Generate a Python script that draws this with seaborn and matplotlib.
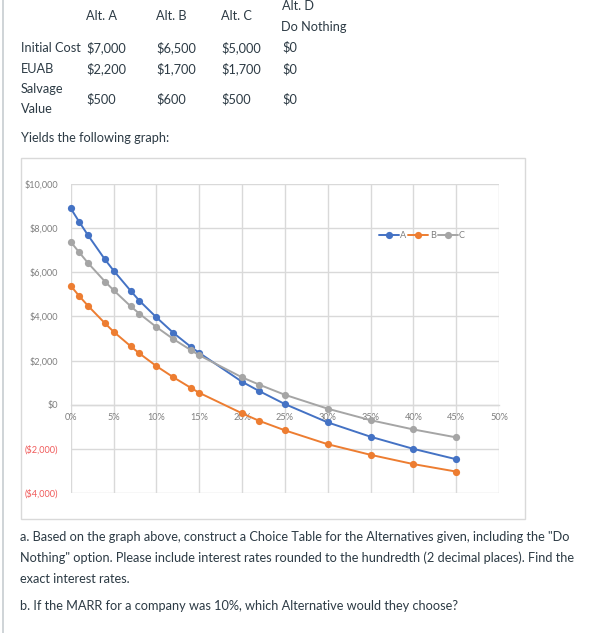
import matplotlib
matplotlib.use("Agg")
import matplotlib.pyplot as plt
import matplotlib.patches as mpatches
from matplotlib.ticker import FuncFormatter
import seaborn as sns
import pandas as pd

# ---- data ----
rates = [0, 1, 2, 4, 5, 7, 8, 10, 12, 14, 15, 20, 22, 25, 30, 35, 40, 45]
pw_a = [8900, 8280, 7690, 6580, 6080, 5160, 4720, 3960, 3250, 2630, 2350,
        1040, 620, 30, -800, -1450, -2000, -2470]
pw_b = [5390, 4920, 4490, 3690, 3310, 2650, 2330, 1750, 1240, 770, 540,
        -390, -730, -1160, -1790, -2270, -2690, -3030]
pw_c = [7380, 6900, 6430, 5580, 5190, 4460, 4130, 3520, 2970, 2480, 2240,
        1240, 910, 450, -180, -700, -1120, -1480]
series_names = ["A", "B", "C"]
x_ticks = [0, 5, 10, 15, 20, 25, 30, 35, 40, 45, 50]
y_ticks = [-4000, -2000, 0, 2000, 4000, 6000, 8000, 10000]

table_cols = ["Alt. A", "Alt. B", "Alt. C"]
initial_cost = ["$7,000", "$6,500", "$5,000", "$0"]
euab = ["$2,200", "$1,700", "$1,700", "$0"]
salvage = ["$500", "$600", "$500", "$0"]

df = pd.DataFrame({
    "rate": rates * 3,
    "pw": pw_a + pw_b + pw_c,
    "alt": sum([[n] * len(rates) for n in series_names], []),
})

sns.set_theme(style="white")
plt.rcParams["font.family"] = ["Lato", "DejaVu Sans"]

W, H = 598, 633
fig = plt.figure(figsize=(W / 100, H / 100), dpi=100)

def fx(px):
    return px / W

def fy(py):
    return 1 - py / H

txt_color = "#2D3B45"
fs = 9.2

# left border line of the page
fig.add_artist(plt.Line2D([fx(2.7), fx(2.7)], [0, 1], color="#C7CDD1", lw=1.2,
                          transform=fig.transFigure))

# ---- table text ----
col_x = [86, 156, 221, 282]
fig.text(fx(282), fy(6), "Alt. D", fontsize=fs, color=txt_color, va="center")
for cx, name in zip(col_x[:3], table_cols):
    fig.text(fx(cx), fy(16), name, fontsize=fs, color=txt_color, va="center")
fig.text(fx(281), fy(27), "Do Nothing", fontsize=fs, color=txt_color, va="center")

fig.text(fx(21), fy(47.5), "Initial Cost", fontsize=fs, color=txt_color, va="center")
for cx, v in zip(col_x, initial_cost):
    fig.text(fx(cx), fy(47.5), v, fontsize=fs, color=txt_color, va="center")
fig.text(fx(21), fy(69), "EUAB", fontsize=fs, color=txt_color, va="center")
for cx, v in zip(col_x, euab):
    fig.text(fx(cx), fy(69), v, fontsize=fs, color=txt_color, va="center")
fig.text(fx(21), fy(89.3), "Salvage", fontsize=fs, color=txt_color, va="center")
fig.text(fx(21), fy(108.7), "Value", fontsize=fs, color=txt_color, va="center")
for cx, v in zip(col_x, salvage):
    fig.text(fx(cx), fy(99), v, fontsize=fs, color=txt_color, va="center")
fig.text(fx(21), fy(138.3), "Yields the following graph:", fontsize=fs,
         color=txt_color, va="center")

# ---- chart frame ----
fig.add_artist(mpatches.Rectangle((fx(20.7), fy(519)), fx(525.3) - fx(20.7),
                                  fy(158.3) - fy(519), transform=fig.transFigure,
                                  fill=False, edgecolor="#D9D9D9", lw=1.0))

# ---- axes ----
ax = fig.add_axes([fx(70.7), fy(493), fx(499) - fx(70.7), fy(184) - fy(493)])
palette = {"A": "#4472C4", "B": "#ED7D31", "C": "#A5A5A5"}
sns.lineplot(data=df, x="rate", y="pw", hue="alt", palette=palette, marker="o",
             markersize=5.2, markeredgewidth=0, linewidth=1.4, ax=ax,
             legend=True, zorder=3, clip_on=False)

ax.set_xlim(0, 50)
ax.set_ylim(-4000, 10000)
ax.set_xticks(x_ticks)
ax.set_yticks(y_ticks)
ax.grid(True, color="#D9D9D9", lw=1.0)
ax.set_axisbelow(True)
for s in ["top", "right", "left"]:
    ax.spines[s].set_visible(False)
ax.spines["bottom"].set_position(("data", 0))
ax.spines["bottom"].set_color("#D9D9D9")
ax.spines["bottom"].set_linewidth(1.0)
ax.set_xlabel("")
ax.set_ylabel("")

ax.xaxis.set_major_formatter(FuncFormatter(lambda v, p: f"{int(v)}%"))

def yfmt(v, p):
    v = int(round(v))
    if v < 0:
        return f"(${-v:,})"
    return f"${v:,}"

ax.yaxis.set_major_formatter(FuncFormatter(yfmt))
ax.tick_params(axis="both", length=0, labelsize=6.6, colors="#7F7F7F")
ax.tick_params(axis="x", pad=6)
ax.tick_params(axis="y", pad=9)
for lab, v in zip(ax.get_yticklabels(), y_ticks):
    if v < 0:
        lab.set_color("#F05A5A")

leg = ax.legend(loc="center", bbox_to_anchor=(0.82, 0.833), ncol=3,
                frameon=False, fontsize=6.6, handlelength=2.2,
                handletextpad=0.15, columnspacing=0.2, borderpad=0)
for t in leg.get_texts():
    t.set_color("#7F7F7F")

# ---- question text ----
q_lines = [
    (537, 'a. Based on the graph above, construct a Choice Table for the Alternatives given, including the "Do'),
    (558, 'Nothing" option. Please include interest rates rounded to the hundredth (2 decimal places). Find the'),
    (579, 'exact interest rates.'),
    (606, 'b. If the MARR for a company was 10%, which Alternative would they choose?'),
]
for yy, t in q_lines:
    fig.text(fx(20), fy(yy), t, fontsize=fs, color=txt_color, va="center")

fig.savefig("out.png", dpi=100)
